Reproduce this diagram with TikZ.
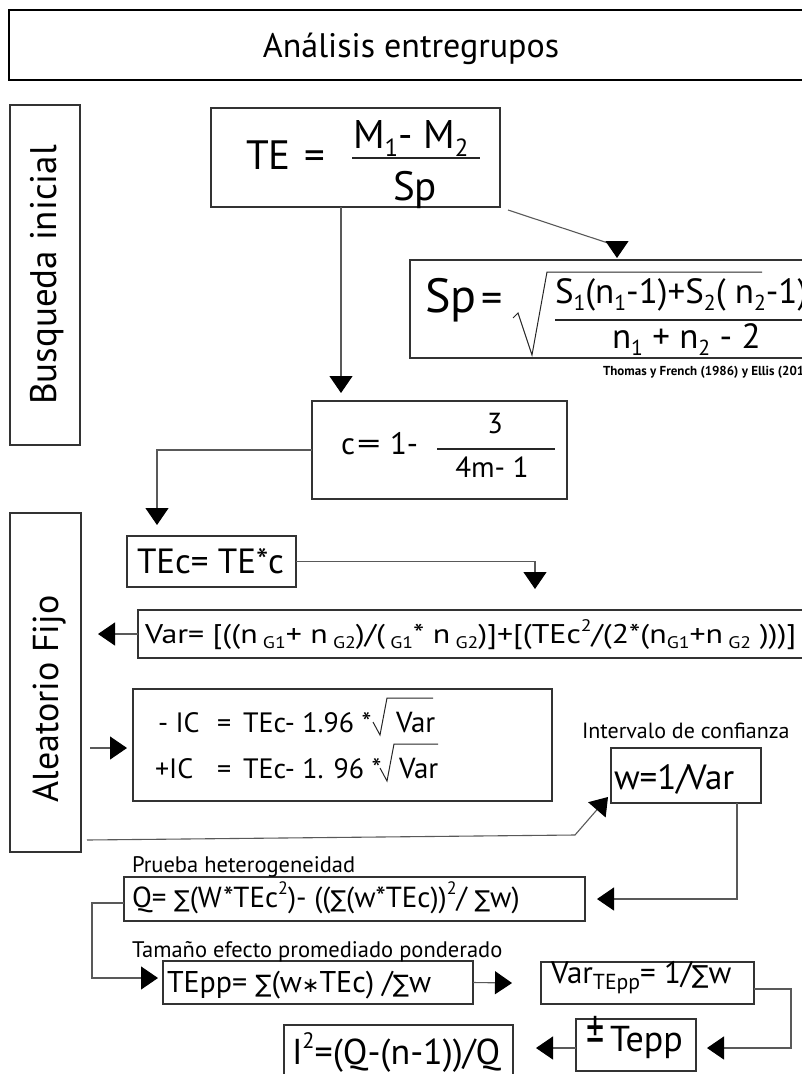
\documentclass[tikz,border=0pt]{standalone}
\usepackage{fontspec}
\setmainfont{PT Sans}
\newfontfamily\dvs{DejaVu Sans}
\usetikzlibrary{arrows.meta,calc}
\newcommand\lo[1]{\raisebox{-0.4ex}{\scalebox{0.62}{#1}}}
\newcommand\hi[1]{\raisebox{0.85ex}{\scalebox{0.62}{#1}}}
\newcommand\sm{{\dvs\scalebox{0.8}{∑}}}
\newcommand\fs[1]{\fontsize{#1}{#1}\selectfont}
\newcommand\bx[6][]{\node[box,#1,minimum width={(#5-#3)*1pt},minimum height={(#6-#4)*1pt}] (#2) at ({(#3+#5)/2},{(#4+#6)/2}) {};}
\begin{document}
\begin{tikzpicture}[x=1pt,y=-1pt,
  box/.style={draw=black!80, line width=1.6pt, inner sep=0pt, outer sep=0pt},
  conn/.style={draw=black!65, line width=1.1pt, -{Triangle[width=23pt,length=17pt,black]}},
  bar/.style={draw=black!85, line width=1.5pt},
  rad/.style={draw=black!85, line width=1pt, line join=miter},
  txt/.style={inner sep=0pt, outer sep=0pt, anchor=base west},
  ctxt/.style={inner sep=0pt, outer sep=0pt, anchor=base},
  ]
\useasboundingbox (0,0) rectangle (802,1074);
% boxes
\bx[line width=2.4pt,draw=black]{title}{9}{10}{812}{80}
\bx{BI}{10}{105}{80}{445}
\bx{TE}{211}{108}{500}{207}
\bx{Sp}{410}{260}{812}{358}
\bx{cbox}{312}{401}{567}{499}
\bx{TEc}{127}{536}{296}{587}
\bx{Var}{138}{610}{812}{658}
\bx{AF}{10}{513}{81}{852}
\bx{IC}{133}{689}{552}{801}
\bx{w}{611}{748}{761}{803}
\bx{Q}{124}{877}{585}{921}
\bx{TEpp}{163}{961}{473}{1004}
\bx{VT}{541}{962}{754}{1004}
\bx{pm}{576}{1019}{696}{1071}
\bx{I2}{284}{1025}{513}{1090}
% texts
\node[ctxt,font=\fs{34}] (ttitle) at (411,57) {Análisis entregrupos};
\node[ctxt,font=\fs{37}] [rotate=90] (tBI) at (56,275) {Busqueda inicial};
\node[ctxt,font=\fs{36}] [rotate=90] (tAF) at (58,699) {Aleatorio Fijo};
% TE
\node[txt,font=\fs{41}] (tTE) at (246,169) {TE};
\node[txt,font=\fs{41}] (tTEeq) at (304,169) {=};
\node[txt,font=\fs{40}] (tTEn) at (353,148) {M\lo{1}- M\lo{2}};
\draw[bar] (352,158) -- (480,158);
\node[ctxt,font=\fs{41}] (tTEd) at (415,200) {Sp};
% Sp
\node[txt,font=\fs{48}] (tSp) at (425,312) {Sp};
\node[txt,font=\fs{42}] (tSpeq) at (481,312) {=};
\draw[rad] (513,318) -- (518,313) -- (532,355) -- (547,272) -- (762,272);
\node[txt,font=\fs{35}] (tSpn) at (555,303) {S\lo{1}(n\lo{1}-1)+S\lo{2}( n\lo{2}-1)};
\draw[bar] (555,320) -- (812,320);
\node[txt,font=\fs{35}] (tSpd) at (612,348) {n\lo{1} + n\lo{2} - 2};
\node[txt,font=\fs{13}\bfseries] (tcite) at (603,375) {Thomas y French (1986) y Ellis (2010)};
% c
\node[txt,font=\fs{31}] (tc) at (341,454) {c};
\node[txt,font=\fs{31}] (tceq) at (357,454) {\scalebox{1.5}[1]{=}};
\node[txt,font=\fs{31}] (tc1) at (390,454) {1-};
\node[ctxt,font=\fs{29}] (tc3) at (495,433) {3};
\draw[bar] (437,449) -- (555,449);
\node[ctxt,font=\fs{29}] (tc4) at (492,477) {4m- 1};
% TEc
\node[txt,font=\fs{35}] (tTEc) at (137,573) {TEc= TE*c};
% Var
\node[txt,font=\fs{27}] (tVar) at (145,643) {\scalebox{1.18}[1]{Var= [((n\lo{ G1}+ n\lo{ G2})/(\lo{ G1}* n\lo{ G2})]+[(TEc\hi{2}/(2*(n\lo{G1}+n\lo{ G2} )))]}};
% IC
\node[txt,font=\fs{28}] (tIC1a) at (158,732) {- IC};
\node[txt,font=\fs{28}] (tIC1b) at (217,732) {=};
\node[txt,font=\fs{28}] (tIC1c) at (243,732) {TEc- 1.96 *};
\draw[rad] (373,722) -- (380,735) -- (387,698) -- (433,698);
\node[txt,font=\fs{29}] (tIC1d) at (396,732) {Var};
\node[txt,font=\fs{28}] (tIC2a) at (155,778) {+IC};
\node[txt,font=\fs{28}] (tIC2b) at (217,778) {=};
\node[txt,font=\fs{28}] (tIC2c) at (243,778) {TEc- 1. 96 *};
\draw[rad] (380,768) -- (387,781) -- (394,744) -- (438,744);
\node[txt,font=\fs{29}] (tIC2d) at (399,778) {Var};
% w
\node[txt,font=\fs{22}] (tint) at (582,738) {Intervalo de confianza};
\node[txt,font=\fs{35}] (tw) at (614,789) {w=1/\kern-2pt Var};
% Q
\node[txt,font=\fs{22.5}] (tprueba) at (132,872) {Prueba heterogeneidad};
\node[txt,font=\fs{29}] (tQ) at (132,907) {Q= \sm(W*TEc\hi{2})- ((\sm(w*TEc))\hi{2}/ \sm w)};
\node[txt,font=\fs{22.5}] (ttam) at (132,957) {Tamaño efecto promediado ponderado};
\node[txt,font=\fs{30}] (tTEpp) at (167,992) {TEpp= \sm(w{\dvs\scalebox{0.7}{∗}}TEc) /\sm w};
\node[txt,font=\fs{31}] (tVT) at (551,983) {Var\raisebox{-0.45ex}{\scalebox{0.7}{TEpp}}= 1/\sm w};
\node[txt,font=\fs{36}] (tTepp) at (586,1051) {\scalebox{1}[1.45]{±}\,Tepp};
\node[txt,font=\fs{36}] (tI2) at (292,1064) {I\hi{2}=(Q-(n-1))/Q};
% connectors
\draw[conn] ($(TE.south west)+(130,0)$) -- ($(cbox.north west)+(29,-8)$);
\draw[conn] ($(TE.south east)+(8,3)$) -- ($(Sp.north west)+(207,-14)$) -- ($(Sp.north west)+(207,-2)$);
\draw[conn] (cbox.west) -| ($(TEc.north west)+(30,-11)$);
\draw[conn] (TEc.east) -| ($(Var.north west)+(397,-21)$);
\draw[conn,shorten >=17pt] (Var.west) -- (Var.west -| AF.east);
\draw[conn,shorten <=9pt,shorten >=6pt] ($(AF.east |- IC.west)+(0,3)$) -- ($(IC.west)+(0,3)$);
\draw[conn] ($(AF.south east)+(6,-12)$) -- ($(w.south west)+(-36,32)$) -- ($(w.south west)+(-3,-6)$);
\draw[conn] ($(w.south west)+(126,0)$) |- ($(Q.east)+(12,0)$);
\draw[conn] ($(Q.west)+(0,4)$) -- ++(-32,0) |- ($(TEpp.west)+(-5,-4.5)$);
\draw[conn] (TEpp.east) -- ($(VT.west)+(-29,0)$);
\draw[conn] ($(VT.east)+(0,6)$) -- ++(37,0) |- ($(pm.east)+(11,3)$);
\draw[conn,shorten >=23pt] ($(pm.west)+(0,3)$) -- ($(pm.west -| I2.east)+(0,3)$);
\end{tikzpicture}
\end{document}
